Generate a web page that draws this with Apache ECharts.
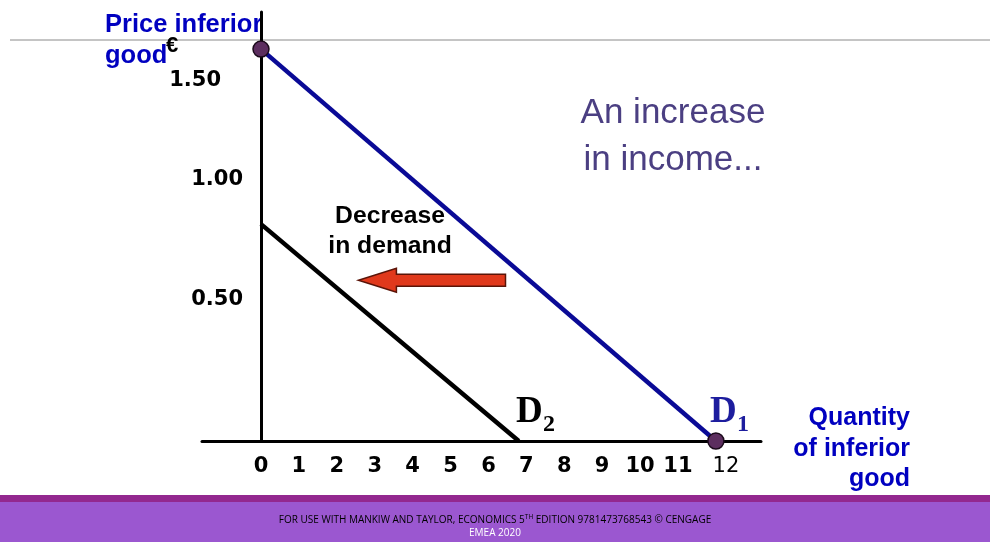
<!DOCTYPE html>
<html>
<head>
<meta charset="utf-8">
<script src="https://cdn.jsdelivr.net/npm/echarts@6/dist/echarts.min.js"></script>
<style>
html, body { margin: 0; padding: 0; background: #fff; }
#main { width: 990px; height: 542px; }
</style>
</head>
<body>
<div id="main"></div>
<script>
// quantities on the x axis, prices on the y axis
var xTicks = [0, 1, 2, 3, 4, 5, 6, 7, 8, 9, 10, 11, 12];
var yTicks = [0.5, 1.0, 1.5];
var d1Data = [[0, 1.5], [12, 0]];
var d2Data = [[0, 0.83], [6.8, 0]];
// shift arrow: [from x, price, to x]
var arrowData = [[6.45, 0.615, 2.57]];

var chart = echarts.init(document.getElementById('main'));

var blue = '#0000c0';
var axisFont = 'DejaVu Sans';

var option = {
	animation: false,
	grid: { left: 202, right: 229, top: 12, bottom: 101 },
	xAxis: {
		type: 'value',
		min: -1.556,
		max: 13.19,
		axisLine: { show: true, lineStyle: { color: '#000', width: 3 } },
		axisTick: { show: false },
		splitLine: { show: false },
		axisLabel: {
			customValues: xTicks,
			margin: 15,
			formatter: function(v) {
				if(v == 12) {
					return '{r|12}';
				}
				return '{b|' + v + '}';
			},
			rich: {
				b: { fontFamily: axisFont, fontWeight: 'bold', fontSize: 21, color: '#000' },
				r: { fontFamily: axisFont, fontWeight: 'normal', fontSize: 21, color: '#000', padding: [0, 0, 10, 20] }
			}
		}
	},
	yAxis: {
		type: 'value',
		min: 0,
		max: 1.642,
		axisLine: { show: true, onZero: true, lineStyle: { color: '#000', width: 3 } },
		axisTick: { show: false },
		splitLine: { show: false },
		axisLabel: {
			customValues: yTicks,
			// labels stay at the grid edge, pull them over to the zero line
			margin: -41,
			formatter: function(v) {
				if(v == 1.5) {
					return '{lo|1.50}';
				}
				if(v == 0.5) {
					return '{hi|0.50}';
				}
				return '{n|' + v.toFixed(2) + '}';
			},
			rich: {
				n: { fontFamily: axisFont, fontWeight: 'bold', fontSize: 21, color: '#000' },
				lo: { fontFamily: axisFont, fontWeight: 'bold', fontSize: 21, color: '#000', padding: [62, 22, 0, 0] },
				hi: { fontFamily: axisFont, fontWeight: 'bold', fontSize: 21, color: '#000', padding: [0, 0, 22, 0] }
			}
		}
	},
	graphic: [
		{ type: 'line', z: 0, shape: { x1: 10, y1: 40, x2: 990, y2: 40 }, style: { stroke: '#8a8a8a', lineWidth: 1 } },
		{ type: 'rect', shape: { x: 0, y: 495, width: 990, height: 7 }, style: { fill: '#93288f' } },
		{ type: 'rect', shape: { x: 0, y: 502, width: 990, height: 40 }, style: { fill: '#9b57d0' } },
		{
			type: 'text', x: 495, y: 520,
			style: {
				text: '{a|FOR USE WITH MANKIW AND TAYLOR, ECONOMICS 5}{s|TH}{a| EDITION 9781473768543 \u00a9 CENGAGE}',
				textAlign: 'center', textVerticalAlign: 'middle',
				rich: {
					a: { fontFamily: 'Open Sans', fontSize: 10, color: '#fff', lineHeight: 13 },
					s: { fontFamily: 'Open Sans', fontSize: 6.5, color: '#fff', lineHeight: 13, verticalAlign: 'top', padding: [0, 0, 4, 0] }
				}
			}
		},
		{ type: 'text', x: 495, y: 533, style: { text: 'EMEA 2020', fontFamily: 'Open Sans', fontSize: 10, fill: '#fff', textAlign: 'center', textVerticalAlign: 'middle' } },
		// axis titles
		{ type: 'text', x: 105, y: 25, style: { text: 'Price inferior', font: 'bold 25.5px "Liberation Sans"', fill: blue, textAlign: 'left', textVerticalAlign: 'middle' } },
		{ type: 'text', x: 105, y: 56, style: { text: 'good', font: 'bold 25.5px "Liberation Sans"', fill: blue, textAlign: 'left', textVerticalAlign: 'middle' } },
		{ type: 'text', x: 166, y: 46, style: { text: '\u20ac', font: 'bold 22px "Liberation Sans"', fill: '#000', textAlign: 'left', textVerticalAlign: 'middle' } },
		{ type: 'text', x: 910, y: 449, style: { text: 'Quantity\nof inferior\ngood', font: 'bold 25px "Liberation Sans"', lineHeight: 30.5, fill: blue, textAlign: 'right', textVerticalAlign: 'middle' } },
		// notes
		{ type: 'text', x: 673, y: 137, style: { text: 'An increase\nin income...', font: '35px "Liberation Sans"', lineHeight: 47, fill: '#4b3f82', textAlign: 'center', textVerticalAlign: 'middle' } },
		{ type: 'text', x: 390, y: 231, style: { text: 'Decrease\nin demand', font: 'bold 24.7px "Liberation Sans"', lineHeight: 30, fill: '#000', textAlign: 'center', textVerticalAlign: 'middle' } },
		// curve names
		{ type: 'text', x: 516, y: 412, style: { text: 'D', font: 'bold 37px "Liberation Serif"', fill: '#000', textAlign: 'left', textVerticalAlign: 'middle' } },
		{ type: 'text', x: 543, y: 425, style: { text: '2', font: 'bold 24px "Liberation Serif"', fill: '#000', textAlign: 'left', textVerticalAlign: 'middle' } },
		{ type: 'text', x: 710, y: 412, style: { text: 'D', font: 'bold 37px "Liberation Serif"', fill: '#1d1d9e', textAlign: 'left', textVerticalAlign: 'middle' } },
		{ type: 'text', x: 737, y: 425, style: { text: '1', font: 'bold 24px "Liberation Serif"', fill: '#1d1d9e', textAlign: 'left', textVerticalAlign: 'middle' } }
	],
	series: [{
		name: 'D2',
		type: 'line',
		data: d2Data,
		showSymbol: false,
		lineStyle: { color: '#000', width: 4.5 },
		z: 3
	}, {
		name: 'D1',
		type: 'line',
		data: d1Data,
		symbol: 'circle',
		symbolSize: 16,
		showSymbol: true,
		clip: false,
		lineStyle: { color: '#0a0a96', width: 4.5 },
		itemStyle: { color: '#5c2e5f', borderColor: '#1a0a1a', borderWidth: 1.5 },
		z: 4
	}, {
		name: 'shift',
		type: 'custom',
		data: arrowData,
		z: 5,
		renderItem: function(params, api) {
			var a = api.coord([api.value(0), api.value(1)]);
			var b = api.coord([api.value(2), api.value(1)]);
			var sh = 6, hh = 12, hl = 38;
			var neck = b[0] + hl;
			return {
				type: 'polygon',
				shape: {
					points: [
						[a[0], a[1] - sh], [neck, a[1] - sh], [neck, a[1] - hh],
						[b[0], a[1]], [neck, a[1] + hh], [neck, a[1] + sh], [a[0], a[1] + sh]
					]
				},
				style: { fill: '#e0391c', stroke: '#5a1408', lineWidth: 1.5 }
			};
		}
	}]
};

chart.setOption(option);
</script>
</body>
</html>
